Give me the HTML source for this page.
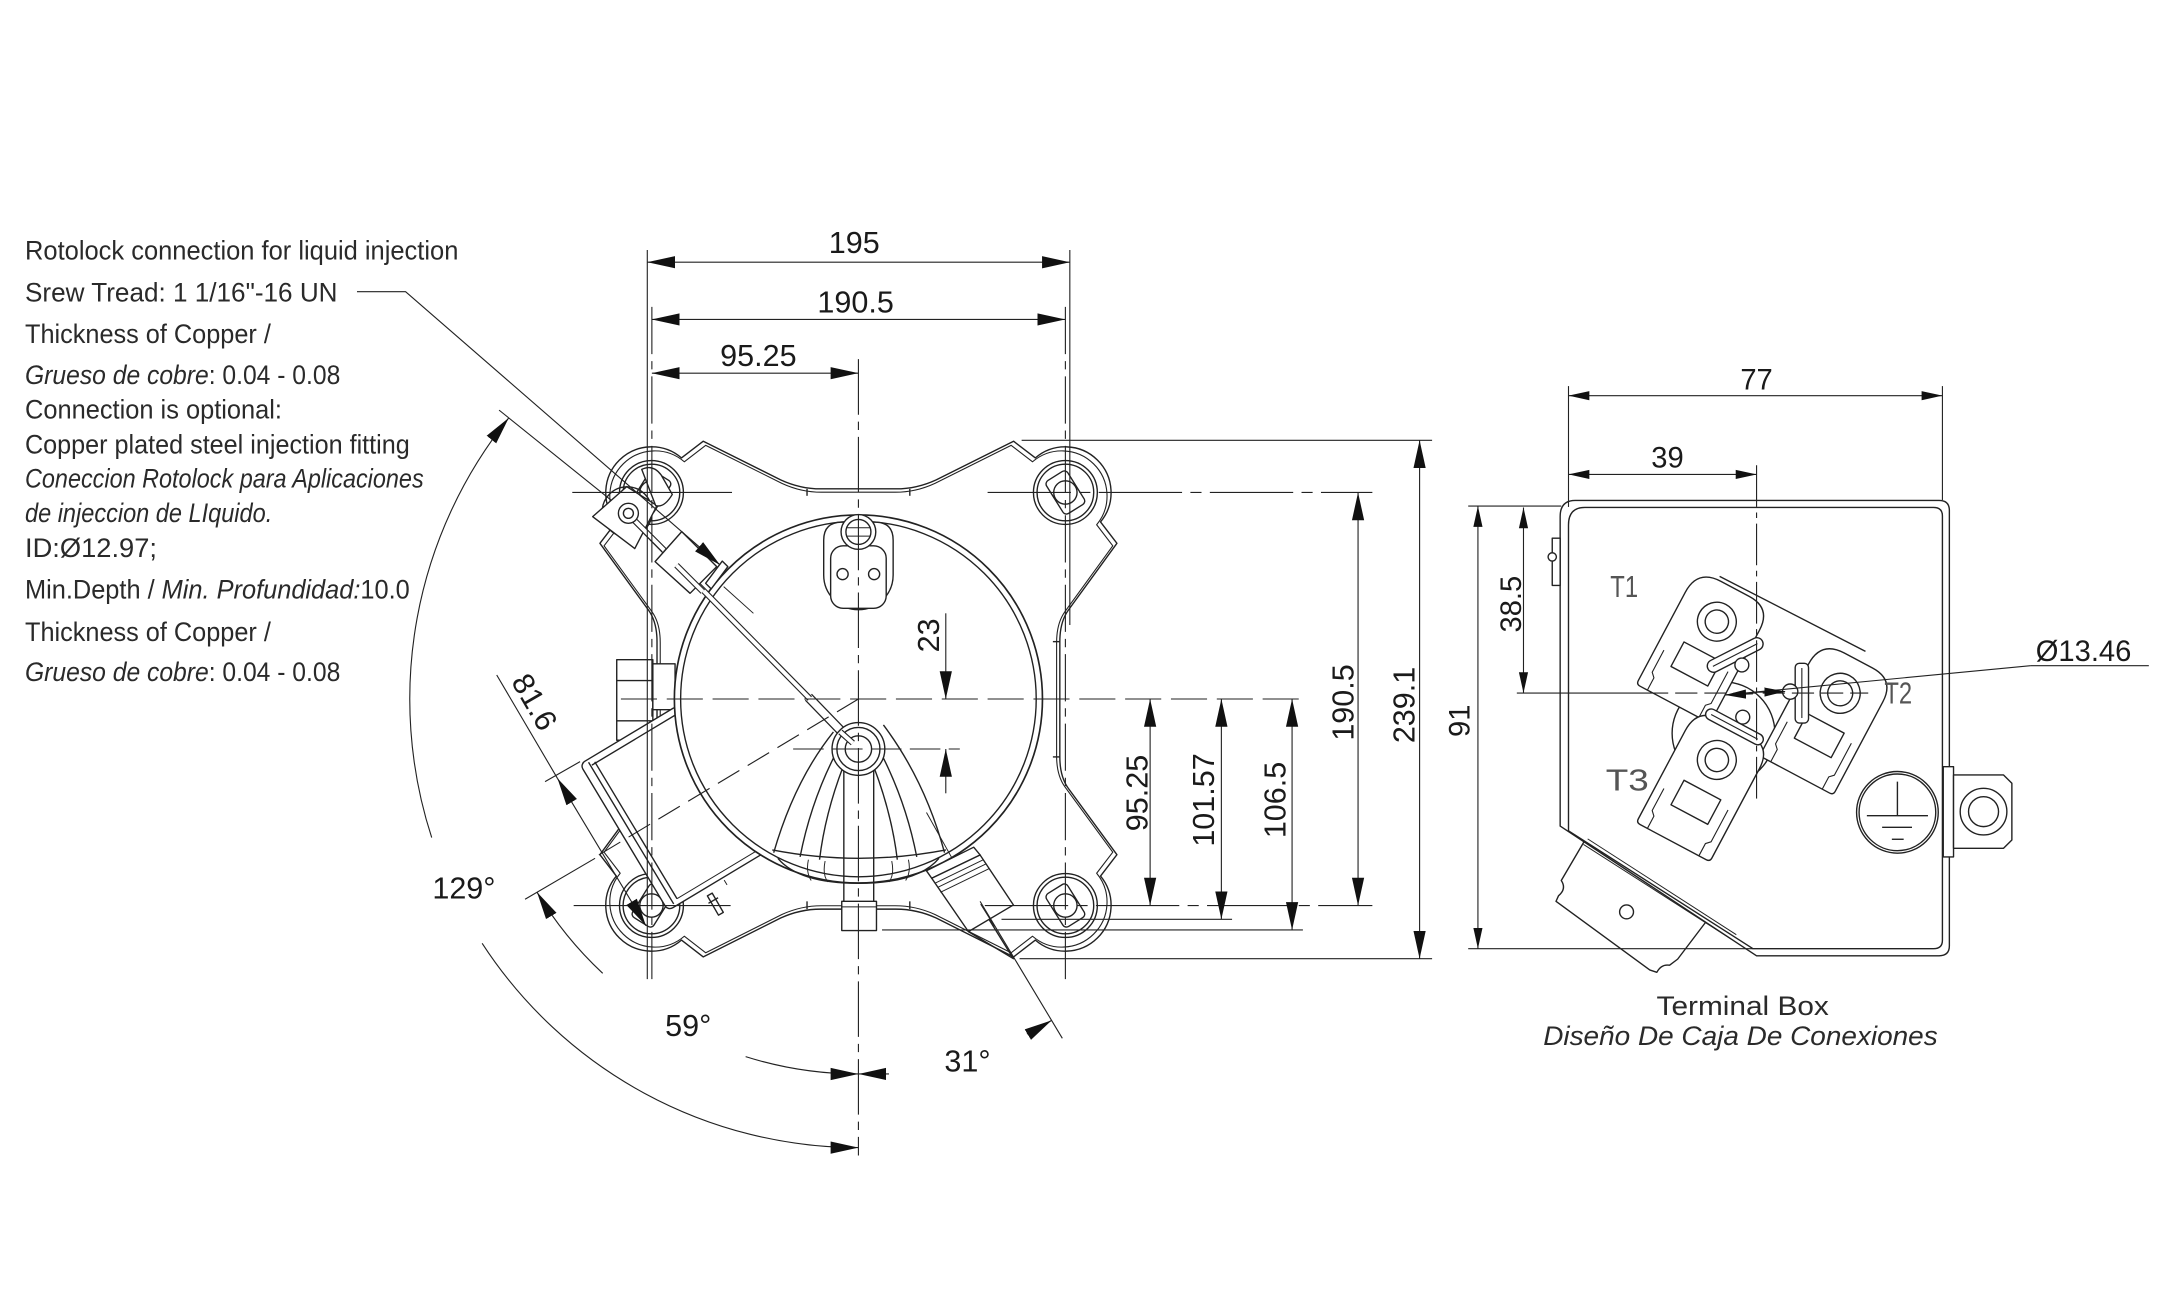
<!DOCTYPE html>
<html><head><meta charset="utf-8">
<style>
html,body{margin:0;padding:0;background:#fff;}
svg{display:block}
.d{font-family:"Liberation Sans",Arial,sans-serif;font-size:22px;fill:#1a1a1a}
.s{font-family:"Liberation Sans",Arial,sans-serif;font-size:21px;fill:#1a1a1a}
.n{font-family:"Liberation Sans",Arial,sans-serif;font-size:19.5px;fill:#2a2a2a}
.t{font-family:"Liberation Sans",Arial,sans-serif;font-size:22px;fill:#555}
</style></head><body>
<svg width="2178" height="1293" viewBox="0 0 1568 931" preserveAspectRatio="none" xmlns="http://www.w3.org/2000/svg">
<defs>
<marker id="ar" viewBox="0 0 20 10" refX="20" refY="5" markerWidth="20" markerHeight="10" markerUnits="userSpaceOnUse" orient="auto-start-reverse"><path d="M0,0.6 L20,5 L0,9.4 Z" fill="#111"/></marker>
<marker id="sm" viewBox="0 0 20 10" refX="20" refY="5" markerWidth="15" markerHeight="7.5" markerUnits="userSpaceOnUse" orient="auto-start-reverse"><path d="M0,0.6 L20,5 L0,9.4 Z" fill="#111"/></marker>
</defs>
<rect width="1568" height="931" fill="#fff"/>

<!-- LEFT TEXT -->
<text class="n" x="18" y="187" textLength="312" lengthAdjust="spacingAndGlyphs">Rotolock connection for liquid injection</text>
<text class="n" x="18" y="217" textLength="225" lengthAdjust="spacingAndGlyphs">Srew Tread: 1 1/16&quot;-16 UN</text>
<text class="n" x="18" y="247" textLength="177" lengthAdjust="spacingAndGlyphs">Thickness of Copper /</text>
<text class="n" x="18" y="276.5" textLength="227" lengthAdjust="spacingAndGlyphs"><tspan font-style="italic">Grueso de cobre</tspan>: 0.04 - 0.08</text>
<text class="n" x="18" y="301.5" textLength="185" lengthAdjust="spacingAndGlyphs">Connection is optional:</text>
<text class="n" x="18" y="326.5" textLength="277" lengthAdjust="spacingAndGlyphs">Copper plated steel injection fitting</text>
<text class="n" x="18" y="351" textLength="287" lengthAdjust="spacingAndGlyphs" font-style="italic">Coneccion Rotolock para Aplicaciones</text>
<text class="n" x="18" y="376" textLength="178" lengthAdjust="spacingAndGlyphs" font-style="italic">de injeccion de LIquido.</text>
<text class="n" x="18" y="401" textLength="95" lengthAdjust="spacingAndGlyphs">ID:Ø12.97;</text>
<text class="n" x="18" y="431" textLength="277" lengthAdjust="spacingAndGlyphs">Min.Depth / <tspan font-style="italic">Min. Profundidad:</tspan>10.0</text>
<text class="n" x="18" y="461.5" textLength="177" lengthAdjust="spacingAndGlyphs">Thickness of Copper /</text>
<text class="n" x="18" y="490.5" textLength="227" lengthAdjust="spacingAndGlyphs"><tspan font-style="italic">Grueso de cobre</tspan>: 0.04 - 0.08</text>

<!-- MAIN BODY -->
<g fill="none" stroke="#222" stroke-width="1" stroke-linejoin="round">
<!-- plate -->
<path id="plate" fill="#fff" d="M591,352 L645,352 Q660,352 674,345.5 L729.7,317.7 L745.4,329.7 A33,33 0 0 1 792.3,375.8 L804.1,391.2 L769,439.5 Q763,448 763,462 L763,545 Q763,559 769,567.5 L804.1,615.4 L792.3,630.8 A33,33 0 0 1 745.4,676.9 L729.7,689 L674,661 Q660,654.6 645,654.6 L591,654.6 Q576,654.6 562,661 L506.3,689 L490.6,676.9 A33,33 0 0 1 443.7,630.8 L431.9,615.4 L467,567.5 Q473,559 473,545 L473,462 Q473,448 467,439.5 L431.9,391.2 L443.7,375.8 A33,33 0 0 1 490.6,329.7 L506.3,317.7 L562,345.5 Q576,352 591,352 Z"/>
<path transform="translate(618,503.3) scale(0.984) translate(-618,-503.3)" stroke-width="0.8" d="M591,352 L645,352 Q660,352 674,345.5 L729.7,317.7 L745.4,329.7 A33,33 0 0 1 792.3,375.8 L804.1,391.2 L769,439.5 Q763,448 763,462 L763,545 Q763,559 769,567.5 L804.1,615.4 L792.3,630.8 A33,33 0 0 1 745.4,676.9 L729.7,689 L674,661 Q660,654.6 645,654.6 L591,654.6 Q576,654.6 562,661 L506.3,689 L490.6,676.9 A33,33 0 0 1 443.7,630.8 L431.9,615.4 L467,567.5 Q473,559 473,545 L473,462 Q473,448 467,439.5 L431.9,391.2 L443.7,375.8 A33,33 0 0 1 490.6,329.7 L506.3,317.7 L562,345.5 Q576,352 591,352 Z"/>
<!-- plate facet lines -->
<line x1="581" y1="352" x2="581" y2="357"/><line x1="655" y1="352" x2="655" y2="357"/>
<line x1="581" y1="654.6" x2="581" y2="649"/><line x1="655" y1="654.6" x2="655" y2="649"/>
<line x1="763" y1="462" x2="758" y2="462"/><line x1="763" y1="545" x2="758" y2="545"/>

<!-- hex nut left -->
<rect x="444" y="475" width="26" height="58" fill="#fff"/>
<line x1="444" y1="490" x2="470" y2="490"/><line x1="444" y1="519" x2="470" y2="519"/>
<rect x="470" y="478" width="16" height="33" fill="#fff"/>

<!-- lobes -->
<g fill="#fff">
<circle cx="767" cy="354.6" r="23"/><circle cx="767" cy="354.6" r="20.4"/>
<rect x="-14" y="-9" width="28" height="18" rx="3" transform="translate(767,354.6) rotate(58)"/>
<circle cx="767" cy="354.6" r="8.4"/>
<circle cx="767" cy="652" r="23"/><circle cx="767" cy="652" r="20.4"/>
<rect x="-14" y="-9" width="28" height="18" rx="3" transform="translate(767,652) rotate(58)"/>
<circle cx="767" cy="652" r="8.4"/>
<circle cx="469" cy="354.6" r="23"/><circle cx="469" cy="354.6" r="20.4"/>
<rect x="-14" y="-9" width="28" height="18" rx="3" transform="translate(469,354.6) rotate(-58)"/>
<circle cx="469" cy="354.6" r="8.4"/>
<circle cx="469" cy="652" r="23"/><circle cx="469" cy="652" r="20.4"/>
<rect x="-14" y="-9" width="28" height="18" rx="3" transform="translate(469,652) rotate(-58)"/>
<circle cx="469" cy="652" r="8.4"/>
</g>

<!-- left terminal box (rotated) -->
<g transform="translate(618,503.3) rotate(149)">
<rect x="114" y="-60" width="82" height="123" rx="4" fill="#fff"/>
<line x1="190" y1="-58" x2="190" y2="61"/>
<line x1="186" y1="-56" x2="186" y2="59"/>
<line x1="114" y1="58" x2="189" y2="58"/>
<line x1="114" y1="-56" x2="186" y2="-56" stroke-width="0.7"/>
<line x1="150" y1="-62" x2="150" y2="-66" stroke-width="0.7"/>
</g>
<g transform="translate(515,651) rotate(-30)"><rect x="-2" y="-8" width="4" height="16" fill="#fff"/><line x1="-4" y1="-3" x2="4" y2="-3"/></g>

<!-- main circle -->
<circle cx="618" cy="503.3" r="132.5" fill="#fff" stroke-width="1.2"/>
<circle cx="618" cy="503.3" r="128"/>

<!-- top boss -->
<path fill="#fff" d="M593,414 L593,389 Q593,376 606,376 L630,376 Q643,376 643,389 L643,414 A25,25 0 0 1 593,414 Z"/>
<rect x="598" y="393" width="40" height="45" rx="9" fill="#fff"/>
<circle cx="618" cy="383" r="12.5" fill="#fff"/>
<circle cx="618" cy="383" r="9"/>
<line x1="610" y1="380" x2="626" y2="380" stroke-width="0.7"/><line x1="610" y1="386" x2="626" y2="386" stroke-width="0.7"/>
<circle cx="606.6" cy="413.4" r="4"/><circle cx="629.3" cy="413.4" r="4"/>

<!-- cone -->
<path d="M600,527 Q572,562 557,614"/>
<path d="M636,522 Q666,562 680,614"/>
<path d="M603,540 Q584,576 576,617"/>
<path d="M607,552 Q594,586 590,619"/>
<path d="M633,540 Q652,576 660,617"/>
<path d="M629,552 Q642,586 646,619"/>
<path d="M556,612 Q618,624 681,612"/>
<path d="M560,618 Q575,636 618,636 Q661,636 676,618"/>
<path d="M582,619 Q580,628 584,634 M594,620 Q592,630 596,635 M654,619 Q656,628 652,634 M642,620 Q644,630 640,635" stroke-width="0.7"/>
<line x1="607.5" y1="555" x2="607.5" y2="649"/><line x1="629" y1="555" x2="629" y2="649"/>
<rect x="606" y="649" width="25" height="21" fill="#fff"/>
<line x1="606" y1="653" x2="631" y2="653" stroke-width="0.7"/>
<path d="M667,585 L686,619" stroke-width="0.7"/>

<!-- rod -->
<line x1="582" y1="502" x2="612" y2="533" stroke="#222" stroke-width="7"/>
<line x1="582" y1="502" x2="612" y2="533" stroke="#fff" stroke-width="5.2"/>
<line x1="455" y1="373" x2="583" y2="503" stroke="#222" stroke-width="4.4"/>
<line x1="455" y1="373" x2="583" y2="503" stroke="#fff" stroke-width="2.8"/>

<!-- central boss -->
<circle cx="618" cy="539.3" r="19" fill="#fff"/>
<circle cx="618" cy="539.3" r="15.5"/>
<circle cx="618" cy="539.3" r="9.5"/>
<line x1="605" y1="527" x2="614" y2="535" stroke="#222" stroke-width="4.4"/>
<line x1="605" y1="527" x2="614" y2="535" stroke="#fff" stroke-width="2.8"/>

<!-- bottom right fitting -->
<polygon fill="#fff" points="667,627 701,610 705.6,615.6 670.8,632.4"/>
<polygon fill="#fff" points="670.8,632.4 705.6,615.6 729.6,651.6 697.2,670.8"/>
<line x1="673" y1="636" x2="708" y2="619" stroke-width="0.7"/>
<line x1="675" y1="639" x2="710" y2="622" stroke-width="0.7"/>
<line x1="677" y1="642.5" x2="712" y2="625.5" stroke-width="0.7"/>
<polyline points="697.2,670.8 729.6,690.3 712,662"/>
<line x1="706" y1="651" x2="716" y2="667" stroke-width="0.7"/>

<!-- injection fitting -->
<circle cx="451.5" cy="368.5" r="18" fill="none"/>
<polygon fill="#fff" points="426.7,372 451.2,350.4 473,364 457,395"/>
<path fill="#fff" d="M462,338 Q470,334 476,342 L484,356 Q478,366 472,364 Z"/>
<line x1="455" y1="373" x2="478" y2="396" stroke="#222" stroke-width="4.4"/>
<line x1="455" y1="373" x2="478" y2="396" stroke="#fff" stroke-width="2.8"/>
<circle cx="452.4" cy="369.6" r="7.2" fill="#fff"/>
<circle cx="452.4" cy="369.6" r="3.6"/>
<polygon fill="#fff" points="471.6,404.4 490.8,382.8 516,408 496.8,427.2"/>
<polygon fill="#fff" points="508,420 520,404 524,408 512,424"/>
<line x1="487" y1="407" x2="506" y2="426" stroke="#222" stroke-width="4.4"/>
<line x1="487" y1="407" x2="506" y2="426" stroke="#fff" stroke-width="2.8"/>
<line x1="521" y1="422.4" x2="542.4" y2="441.6" stroke-width="0.7"/>
</g>

<!-- CENTER LINES & DIMENSIONS (main) -->
<g fill="none" stroke="#222" stroke-width="0.8">
<line x1="466" y1="180" x2="466" y2="705"/>
<line x1="770.2" y1="180" x2="770.2" y2="450"/>
<line x1="469.3" y1="221" x2="469.3" y2="705" stroke-dasharray="34 5 6 5"/>
<line x1="767" y1="221" x2="767" y2="708" stroke-dasharray="34 5 6 5"/>
<line x1="618" y1="258.6" x2="618" y2="832" stroke-dasharray="40 5 6 5"/>
<line x1="412" y1="354.6" x2="527" y2="354.6"/>
<line x1="711" y1="354.6" x2="988" y2="354.6" stroke-dasharray="60 6 8 6"/>
<line x1="413" y1="652" x2="526" y2="652"/>
<line x1="709" y1="652" x2="988" y2="652" stroke-dasharray="60 6 8 6"/>
<line x1="447" y1="503.3" x2="938" y2="503.3" stroke-dasharray="26 7"/>
<line x1="571" y1="539.3" x2="691" y2="539.3" stroke-dasharray="22 6"/>
<line x1="618" y1="503.3" x2="425.1" y2="619.2" stroke-dasharray="18 7"/>
<line x1="735.5" y1="317" x2="1031" y2="317"/>
<line x1="721" y1="661.9" x2="887" y2="661.9"/>
<line x1="635" y1="669.6" x2="938" y2="669.6"/>
<line x1="734" y1="690.3" x2="1031" y2="690.3"/>

<line x1="466" y1="188.8" x2="770.2" y2="188.8" marker-start="url(#ar)" marker-end="url(#ar)"/>
<line x1="469.3" y1="230" x2="766.9" y2="230" marker-start="url(#ar)" marker-end="url(#ar)"/>
<line x1="469.3" y1="268.7" x2="618" y2="268.7" marker-start="url(#ar)" marker-end="url(#ar)"/>

<line x1="977.7" y1="354.6" x2="977.7" y2="652" marker-start="url(#ar)" marker-end="url(#ar)"/>
<line x1="1022" y1="317" x2="1022" y2="690.3" marker-start="url(#ar)" marker-end="url(#ar)"/>
<line x1="828" y1="503.3" x2="828" y2="652" marker-start="url(#ar)" marker-end="url(#ar)"/>
<line x1="879.3" y1="503.3" x2="879.3" y2="661.9" marker-start="url(#ar)" marker-end="url(#ar)"/>
<line x1="930.2" y1="503.3" x2="930.2" y2="669.6" marker-start="url(#ar)" marker-end="url(#ar)"/>

<line x1="680.9" y1="441.6" x2="680.9" y2="503.3" marker-end="url(#ar)"/>
<line x1="680.9" y1="571.2" x2="680.9" y2="539.3" marker-end="url(#ar)"/>

<!-- leader -->
<polyline points="257,210 292,210 518.4,406.8" marker-end="url(#ar)"/>

<!-- angle arcs -->
<path d="M310.8,603.1 A323,323 0 0 1 366.3,300.9" marker-end="url(#ar)"/>
<path d="M347.1,679.2 A323,323 0 0 0 618,826.3" marker-end="url(#ar)"/>
<path d="M433.9,700.8 A270,270 0 0 1 386.6,642.4" marker-end="url(#ar)"/>
<path d="M536.8,760.8 A270,270 0 0 0 618,773.3" marker-end="url(#ar)"/>
<path d="M739.3,744.5 A270,270 0 0 0 757.1,734.7" marker-end="url(#ar)"/>
<line x1="640" y1="773.3" x2="618" y2="773.3" marker-end="url(#ar)"/>
<line x1="359.3" y1="295.3" x2="440.3" y2="360.4"/>
<line x1="378" y1="647.5" x2="428.4" y2="618"/>
<line x1="705.6" y1="649" x2="764.8" y2="747.6"/>
<!-- 81.6 -->
<line x1="392.4" y1="562.8" x2="417.6" y2="548.4"/>
<line x1="401.3" y1="560.4" x2="357.6" y2="486"/>
<line x1="465" y1="666.5" x2="401.3" y2="560.4" marker-start="url(#ar)" marker-end="url(#ar)"/>
</g>

<!-- main dim texts -->
<text class="d" x="615" y="182" text-anchor="middle">195</text>
<text class="d" x="616" y="225" text-anchor="middle">190.5</text>
<text class="d" x="546" y="263.5" text-anchor="middle">95.25</text>
<text class="d" text-anchor="middle" transform="translate(974.5,505.8) rotate(-90)">190.5</text>
<text class="d" text-anchor="middle" transform="translate(1018.5,507.6) rotate(-90)">239.1</text>
<text class="d" text-anchor="middle" transform="translate(826,571) rotate(-90)">95.25</text>
<text class="d" text-anchor="middle" transform="translate(874,576) rotate(-90)">101.57</text>
<text class="d" text-anchor="middle" transform="translate(925.5,576) rotate(-90)">106.5</text>
<text class="d" text-anchor="middle" transform="translate(676,457.5) rotate(-90)">23</text>
<text class="d" text-anchor="middle" transform="translate(378.3,509.2) rotate(60)">81.6</text>
<text class="d" x="334" y="647" text-anchor="middle">129°</text>
<text class="d" x="495.5" y="746" text-anchor="middle">59°</text>
<text class="d" x="696.5" y="771.5" text-anchor="middle">31°</text>

<!-- TERMINAL BOX -->
<g fill="none" stroke="#222" stroke-width="1" stroke-linejoin="round">
<!-- bracket -->
<path fill="#fff" d="M1141.6,604 L1124,634 Q1128,640 1122,645 L1120.2,649 L1187.7,698.4 L1192.8,700.1 Q1196,694 1202,695 L1207.8,690.6 L1231,660 Z"/>
<circle cx="1171" cy="656.6" r="5"/>
<!-- box -->
<path fill="#fff" d="M1123.2,372 Q1123.2,360.3 1134,360.3 L1396,360.3 Q1403.4,360.3 1403.4,367.5 L1403.4,681 Q1403.4,688.2 1396,688.2 L1264.6,688.2 L1123.2,594.8 Z"/>
<path d="M1129.2,378 Q1129.2,365.4 1141,365.4 L1392,365.4 Q1398.4,365.4 1398.4,371.5 L1398.4,677 Q1398.4,683.1 1392,683.1 L1262,683.1 L1129.2,598.2 Z"/>
<line x1="1140" y1="608" x2="1246" y2="676" stroke-width="0.7"/>
<line x1="1143" y1="604" x2="1250" y2="673" stroke-width="0.7"/>
<!-- left tab -->
<rect x="1117.5" y="387.5" width="5.7" height="34" fill="#fff"/>
<circle cx="1117.5" cy="401" r="3" fill="#fff"/>
<!-- right tab -->
<rect x="1399" y="552" width="7.4" height="65" fill="#fff"/>
<path fill="#fff" d="M1406.4,558 L1442.4,558 L1448.4,564 L1448.4,604.8 L1442.4,610.8 L1406.4,610.8 Z"/>
<circle cx="1428" cy="584.4" r="16.8"/>
<circle cx="1428" cy="584.4" r="10.8"/>
<!-- ground -->
<circle cx="1366" cy="584.9" r="29.4" fill="#fff"/>
<circle cx="1366" cy="584.9" r="27.6"/>
<line x1="1366" y1="562.8" x2="1366" y2="587.3"/>
<line x1="1344" y1="587.3" x2="1388" y2="587.3"/>
<line x1="1355" y1="595.7" x2="1376.5" y2="595.7"/>
<line x1="1362" y1="604.3" x2="1370.5" y2="604.3"/>

<!-- hub -->
<circle cx="1240.8" cy="528" r="37"/>
<line x1="1238" y1="415" x2="1343" y2="469"/>

<!-- T2 -->
<g transform="translate(1324.8,499.2) rotate(28)">
<path fill="#fff" d="M-30,64 L-30,-8 Q-30,-27 -11,-27 L12,-27 Q30,-27 30,-9 L30,64 Q30,67 27,67 L-27,67 Q-30,67 -30,64 Z"/>
<circle r="14.4"/><circle r="9"/>
<rect x="-14" y="24" width="30" height="20"/>
<path d="M-24,36 L-24,54 L-21,57 L-21,67 M24,28 L24,54 L21,57 L21,67" stroke-width="0.8"/>
</g>
<rect x="1292.4" y="477.6" width="9.6" height="43" rx="3" fill="#fff"/>
<line x1="1297.2" y1="481" x2="1297.2" y2="517" stroke-width="0.8"/>
<circle cx="1288.8" cy="498" r="5.5" fill="#fff"/>
<!-- T1 -->
<g transform="translate(1236,447.6) rotate(28)">
<path fill="#fff" d="M-30,64 L-30,-8 Q-30,-27 -11,-27 L12,-27 Q30,-27 30,-9 L30,64 Q30,67 27,67 L-27,67 Q-30,67 -30,64 Z"/>
<circle r="14"/><circle r="8.4"/>
<rect x="-14" y="24" width="30" height="20"/>
<path d="M-24,36 L-24,54 L-21,57 L-21,67 M24,28 L24,54 L21,57 L21,67" stroke-width="0.8"/>
</g>
<g transform="translate(1249.2,471.6) rotate(-27)">
<rect x="-22" y="-4.5" width="44" height="9" rx="4.5" fill="#fff"/>
<line x1="-18" y1="0" x2="18" y2="0" stroke-width="0.8"/>
</g>
<circle cx="1254" cy="478.8" r="5" fill="#fff"/>
<!-- T3 -->
<g transform="translate(1236,547.2) rotate(28)">
<path fill="#fff" d="M-30,64 L-30,-8 Q-30,-27 -11,-27 L12,-27 Q30,-27 30,-9 L30,64 Q30,67 27,67 L-27,67 Q-30,67 -30,64 Z"/>
<circle r="14"/><circle r="8.4"/>
<rect x="-14" y="24" width="30" height="20"/>
<path d="M-24,36 L-24,54 L-21,57 L-21,67 M24,28 L24,54 L21,57 L21,67" stroke-width="0.8"/>
<rect x="-23" y="-31" width="46" height="8" rx="4" fill="#fff"/>
<line x1="-19" y1="-27" x2="19" y2="-27" stroke-width="0.8"/>
<circle cx="2" cy="-36" r="5" fill="#fff"/>
</g>
</g>

<!-- terminal box dims -->
<g fill="none" stroke="#222" stroke-width="0.8">
<line x1="1129.2" y1="278" x2="1129.2" y2="365"/>
<line x1="1398.4" y1="278" x2="1398.4" y2="360"/>
<line x1="1129.2" y1="284.9" x2="1398.4" y2="284.9" marker-start="url(#sm)" marker-end="url(#sm)"/>
<line x1="1129.2" y1="341.6" x2="1264.6" y2="341.6" marker-start="url(#sm)" marker-end="url(#sm)"/>
<line x1="1264.6" y1="335" x2="1264.6" y2="575" stroke-dasharray="30 4 4 4"/>
<line x1="1057" y1="364.4" x2="1124" y2="364.4"/>
<line x1="1057" y1="683.1" x2="1262" y2="683.1"/>
<line x1="1064" y1="364.4" x2="1064" y2="683.1" marker-start="url(#sm)" marker-end="url(#sm)"/>
<line x1="1096.8" y1="365.4" x2="1096.8" y2="499" marker-start="url(#sm)" marker-end="url(#sm)"/>
<line x1="1092" y1="499" x2="1185" y2="499"/>
<line x1="1185" y1="499" x2="1345" y2="499" stroke-dasharray="16 5"/>
<line x1="1461.9" y1="479.3" x2="1547" y2="479.3"/>
<line x1="1461.9" y1="479.3" x2="1242" y2="500.4"/>
<line x1="1262" y1="498.5" x2="1285.2" y2="497.9" marker-end="url(#sm)"/>
<line x1="1262" y1="499.6" x2="1242" y2="500.4" marker-end="url(#sm)"/>
</g>
<text class="s" x="1264.6" y="280.5" text-anchor="middle">77</text>
<text class="s" x="1200.5" y="336.5" text-anchor="middle">39</text>
<text class="s" text-anchor="middle" transform="translate(1058,519) rotate(-90)">91</text>
<text class="s" text-anchor="middle" transform="translate(1095,435) rotate(-90)">38.5</text>
<text class="s" x="1500" y="476" text-anchor="middle">Ø13.46</text>
<text class="t" x="1159.3" y="430" textLength="20" lengthAdjust="spacingAndGlyphs">T1</text>
<text class="t" x="1356.6" y="506.5" textLength="20" lengthAdjust="spacingAndGlyphs">T2</text>
<text class="t" x="1156" y="569.3" textLength="31" lengthAdjust="spacingAndGlyphs">T3</text>
<text class="n" x="1254.6" y="730.7" text-anchor="middle" font-size="21" textLength="124" lengthAdjust="spacingAndGlyphs">Terminal Box</text>
<text class="n" x="1253" y="752.5" text-anchor="middle" font-size="21" font-style="italic" textLength="284" lengthAdjust="spacingAndGlyphs">Diseño De Caja De Conexiones</text>
</svg>
</body></html>
